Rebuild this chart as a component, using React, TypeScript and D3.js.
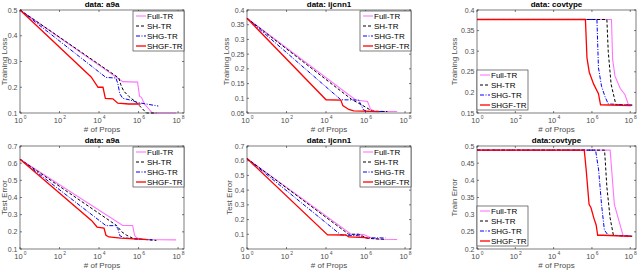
import React from 'react';
import * as d3 from 'd3';

type Pt = [number, number];

const SERIES_NAMES = ['Full-TR', 'SH-TR', 'SHG-TR', 'SHGF-TR'];

// a9a training loss
const a9aLossFull: Pt[] = [[0, 0.5], [5.2, 0.222], [5.95, 0.22], [6.05, 0.165], [6.15, 0.16], [6.3, 0.135], [6.7, 0.1], [7.9, 0.1]];
const a9aLossSH: Pt[] = [[0, 0.5], [5.0, 0.236], [5.1, 0.21], [5.25, 0.185], [5.5, 0.165], [5.9, 0.14], [6.4, 0.1], [6.9, 0.1]];
const a9aLossSHG: Pt[] = [[0, 0.5], [4.35, 0.238], [4.85, 0.236], [4.95, 0.215], [5.05, 0.175], [5.2, 0.157], [5.6, 0.15], [6.0, 0.14], [7.0, 0.127]];
const a9aLossSHGF: Pt[] = [[0, 0.5], [3.6, 0.24], [3.95, 0.2], [4.2, 0.2], [4.32, 0.157], [4.7, 0.155], [4.95, 0.138], [5.5, 0.135], [6.1, 0.135]];

// ijcnn1 training loss
const ijcLossFull: Pt[] = [[0, 0.372], [5.5, 0.094], [6.1, 0.089], [6.25, 0.063], [6.5, 0.055], [7.6, 0.055]];
const ijcLossSH: Pt[] = [[0, 0.372], [5.3, 0.096], [5.6, 0.085], [6.0, 0.07], [6.35, 0.056], [7.1, 0.055]];
const ijcLossSHG: Pt[] = [[0, 0.372], [4.75, 0.095], [5.65, 0.094], [5.9, 0.06], [6.1, 0.056], [7.0, 0.055]];
const ijcLossSHGF: Pt[] = [[0, 0.372], [4.0, 0.095], [4.75, 0.094], [4.85, 0.075], [5.15, 0.062], [5.4, 0.057], [6.7, 0.055]];

// covtype training loss
const covLossFull: Pt[] = [[0, 0.377], [7.02, 0.377], [7.08, 0.28], [7.2, 0.24], [7.47, 0.21], [7.72, 0.195], [7.9, 0.171], [8.1, 0.17]];
const covLossSH: Pt[] = [[0, 0.377], [6.78, 0.377], [6.85, 0.3], [7.0, 0.22], [7.15, 0.19], [7.25, 0.17], [8.1, 0.169]];
const covLossSHG: Pt[] = [[0, 0.377], [6.26, 0.377], [6.34, 0.26], [6.5, 0.215], [6.68, 0.19], [6.85, 0.172], [8.1, 0.169]];
const covLossSHGF: Pt[] = [[0, 0.377], [5.66, 0.377], [5.74, 0.284], [5.86, 0.249], [6.09, 0.22], [6.34, 0.197], [6.45, 0.17], [8.05, 0.168]];

// a9a test error
const a9aErrFull: Pt[] = [[0, 0.623], [5.2, 0.237], [5.7, 0.237], [5.8, 0.18], [5.9, 0.165], [6.2, 0.155], [7.9, 0.153]];
const a9aErrSH: Pt[] = [[0, 0.623], [4.9, 0.236], [5.15, 0.2], [5.4, 0.18], [5.75, 0.16], [6.4, 0.155], [6.9, 0.15]];
const a9aErrSHG: Pt[] = [[0, 0.623], [4.35, 0.236], [4.85, 0.236], [4.95, 0.22], [5.05, 0.178], [5.25, 0.165], [5.7, 0.16], [6.7, 0.153]];
const a9aErrSHGF: Pt[] = [[0, 0.623], [3.63, 0.265], [3.9, 0.228], [4.25, 0.222], [4.35, 0.18], [4.5, 0.17], [5.1, 0.163], [6.0, 0.158], [6.5, 0.155]];

// ijcnn1 test error
const ijcErrFull: Pt[] = [[0, 0.615], [5.25, 0.102], [5.9, 0.098], [6.3, 0.075], [6.6, 0.066], [7.6, 0.065]];
const ijcErrSH: Pt[] = [[0, 0.615], [5.15, 0.1], [5.65, 0.1], [6.1, 0.072], [7.0, 0.066]];
const ijcErrSHG: Pt[] = [[0, 0.615], [4.75, 0.096], [5.65, 0.09], [6.0, 0.076], [7.0, 0.075]];
const ijcErrSHGF: Pt[] = [[0, 0.615], [4.08, 0.096], [5.0, 0.095], [5.15, 0.082], [6.0, 0.078], [6.2, 0.072]];

// covtype train error
const covErrFull: Pt[] = [[0, 0.488], [6.95, 0.488], [7.03, 0.43], [7.17, 0.33], [7.37, 0.29], [7.62, 0.24], [8.1, 0.238]];
const covErrSH: Pt[] = [[0, 0.488], [6.66, 0.488], [6.78, 0.38], [6.95, 0.29], [7.12, 0.24], [8.1, 0.237]];
const covErrSHG: Pt[] = [[0, 0.488], [6.19, 0.488], [6.35, 0.43], [6.5, 0.33], [6.65, 0.255], [6.85, 0.24], [8.1, 0.237]];
const covErrSHGF: Pt[] = [[0, 0.488], [5.6, 0.488], [5.7, 0.43], [5.85, 0.33], [5.95, 0.32], [6.1, 0.29], [6.22, 0.27], [6.3, 0.24], [6.6, 0.24], [8.05, 0.237]];

const X_TICKS = [0, 2, 4, 6, 8];

const STYLES = [
  { color: '#ff73ff', dash: '', width: 1.1 },
  { color: '#000000', dash: '3,2', width: 1 },
  { color: '#0000ff', dash: '4,1.5,1,1.5', width: 1 },
  { color: '#ff0000', dash: '', width: 1.3 },
];

interface PanelProps {
  left: number; top: number; width: number; height: number;
  title: string; ylabel: string; ylabelX: number;
  yDomain: [number, number]; yTicks: number[];
  series: Pt[][];
  legendPos: 'tr' | 'bl';
}

const fmt = (v: number) => String(+v.toFixed(2));

const Panel: React.FC<PanelProps> = ({ left, top, width, height, title, ylabel, ylabelX, yDomain, yTicks, series, legendPos }) => {
  const x = d3.scaleLinear().domain([0, 8.3]).range([0, width]);
  const y = d3.scaleLinear().domain(yDomain).range([height, 0]);
  const line = d3.line<Pt>().x(d => x(d[0])).y(d => y(d[1]));
  const tickCol = '#4d4d4d';
  const lw = 51, lh = 40;
  const lx = legendPos === 'tr' ? width - lw : 0;
  const ly = legendPos === 'tr' ? 1 : height - lh - 3;

  return (
    <g transform={`translate(${left},${top})`} fontFamily="Liberation Sans, Arial, sans-serif">
      <text x={width / 2} y={-3} textAnchor="middle" fontSize={8} fontWeight="bold" fill="#000">{title}</text>
      <rect x={0} y={0} width={width} height={height} fill="#fff" />
      {series.map((s, i) => (
        <path key={i} d={line(s) || ''} fill="none" stroke={STYLES[i].color}
          strokeWidth={STYLES[i].width} strokeDasharray={STYLES[i].dash} />
      ))}
      <rect x={0} y={0} width={width} height={height} fill="none" stroke="#262626" strokeWidth={0.6} />
      {yTicks.map(t => (
        <g key={t}>
          <line x1={0} x2={2} y1={y(t)} y2={y(t)} stroke="#262626" strokeWidth={0.6} />
          <line x1={width} x2={width - 2} y1={y(t)} y2={y(t)} stroke="#262626" strokeWidth={0.6} />
          <text x={-2.5} y={y(t) + 2.5} textAnchor="end" fontSize={7} fill={tickCol}>{fmt(t)}</text>
        </g>
      ))}
      {X_TICKS.map(t => (
        <g key={t}>
          <line x1={x(t)} x2={x(t)} y1={height} y2={height - 2} stroke="#262626" strokeWidth={0.6} />
          <line x1={x(t)} x2={x(t)} y1={0} y2={2} stroke="#262626" strokeWidth={0.6} />
          <text x={x(t) - 1.5} y={height + 10} textAnchor="middle" fontSize={7.5} fill={tickCol}>10</text>
          <text x={x(t) + 3.8} y={height + 6} textAnchor="start" fontSize={5} fill={tickCol}>{t}</text>
        </g>
      ))}
      <text x={width / 2} y={height + 19} textAnchor="middle" fontSize={8} fill={tickCol}># of Props</text>
      <text transform={`translate(${ylabelX},${height / 2}) rotate(-90)`} textAnchor="middle" fontSize={8} fill={tickCol}>{ylabel}</text>
      <g transform={`translate(${lx},${ly})`}>
        <rect x={0} y={0} width={lw} height={lh} fill="#fff" stroke="#262626" strokeWidth={0.6} />
        {SERIES_NAMES.map((n, i) => (
          <g key={n} transform={`translate(0,${5 + i * 10})`}>
            <line x1={3} x2={13} y1={0} y2={0} stroke={STYLES[i].color} strokeWidth={STYLES[i].width}
              strokeDasharray={STYLES[i].dash} />
            <text x={14} y={3} fontSize={8} fill="#000">{n}</text>
          </g>
        ))}
      </g>
    </g>
  );
};

const App: React.FC = () => {
  const h = 103;
  return (
    <svg width={640} height={272} style={{ position: 'absolute', left: 0, top: 0, background: '#fff' }}>
      <Panel left={20} top={10} width={164} height={h} title="data: a9a" ylabel="Training Loss" ylabelX={-13.5}
        yDomain={[0.1, 0.5]} yTicks={[0.1, 0.2, 0.3, 0.4, 0.5]}
        series={[a9aLossFull, a9aLossSH, a9aLossSHG, a9aLossSHGF]} legendPos="tr" />
      <Panel left={247} top={10} width={164} height={h} title="data: ijcnn1" ylabel="Training Loss" ylabelX={-18}
        yDomain={[0.05, 0.4]} yTicks={[0.05, 0.1, 0.15, 0.2, 0.25, 0.3, 0.35, 0.4]}
        series={[ijcLossFull, ijcLossSH, ijcLossSHG, ijcLossSHGF]} legendPos="tr" />
      <Panel left={477} top={10} width={159} height={h} title="data: covtype" ylabel="Training Loss" ylabelX={-20}
        yDomain={[0.15, 0.4]} yTicks={[0.15, 0.2, 0.25, 0.3, 0.35, 0.4]}
        series={[covLossFull, covLossSH, covLossSHG, covLossSHGF]} legendPos="bl" />
      <Panel left={20} top={146} width={164} height={h} title="data: a9a" ylabel="Test Error" ylabelX={-13.5}
        yDomain={[0.1, 0.7]} yTicks={[0.1, 0.2, 0.3, 0.4, 0.5, 0.6, 0.7]}
        series={[a9aErrFull, a9aErrSH, a9aErrSHG, a9aErrSHGF]} legendPos="tr" />
      <Panel left={247} top={146} width={164} height={h} title="data: ijcnn1" ylabel="Test Error" ylabelX={-15}
        yDomain={[0, 0.7]} yTicks={[0, 0.1, 0.2, 0.3, 0.4, 0.5, 0.6, 0.7]}
        series={[ijcErrFull, ijcErrSH, ijcErrSHG, ijcErrSHGF]} legendPos="tr" />
      <Panel left={477} top={146} width={159} height={h} title="data:covtype" ylabel="Train Error" ylabelX={-20}
        yDomain={[0.2, 0.5]} yTicks={[0.2, 0.25, 0.3, 0.35, 0.4, 0.45, 0.5]}
        series={[covErrFull, covErrSH, covErrSHG, covErrSHGF]} legendPos="bl" />
    </svg>
  );
};

export default App;
